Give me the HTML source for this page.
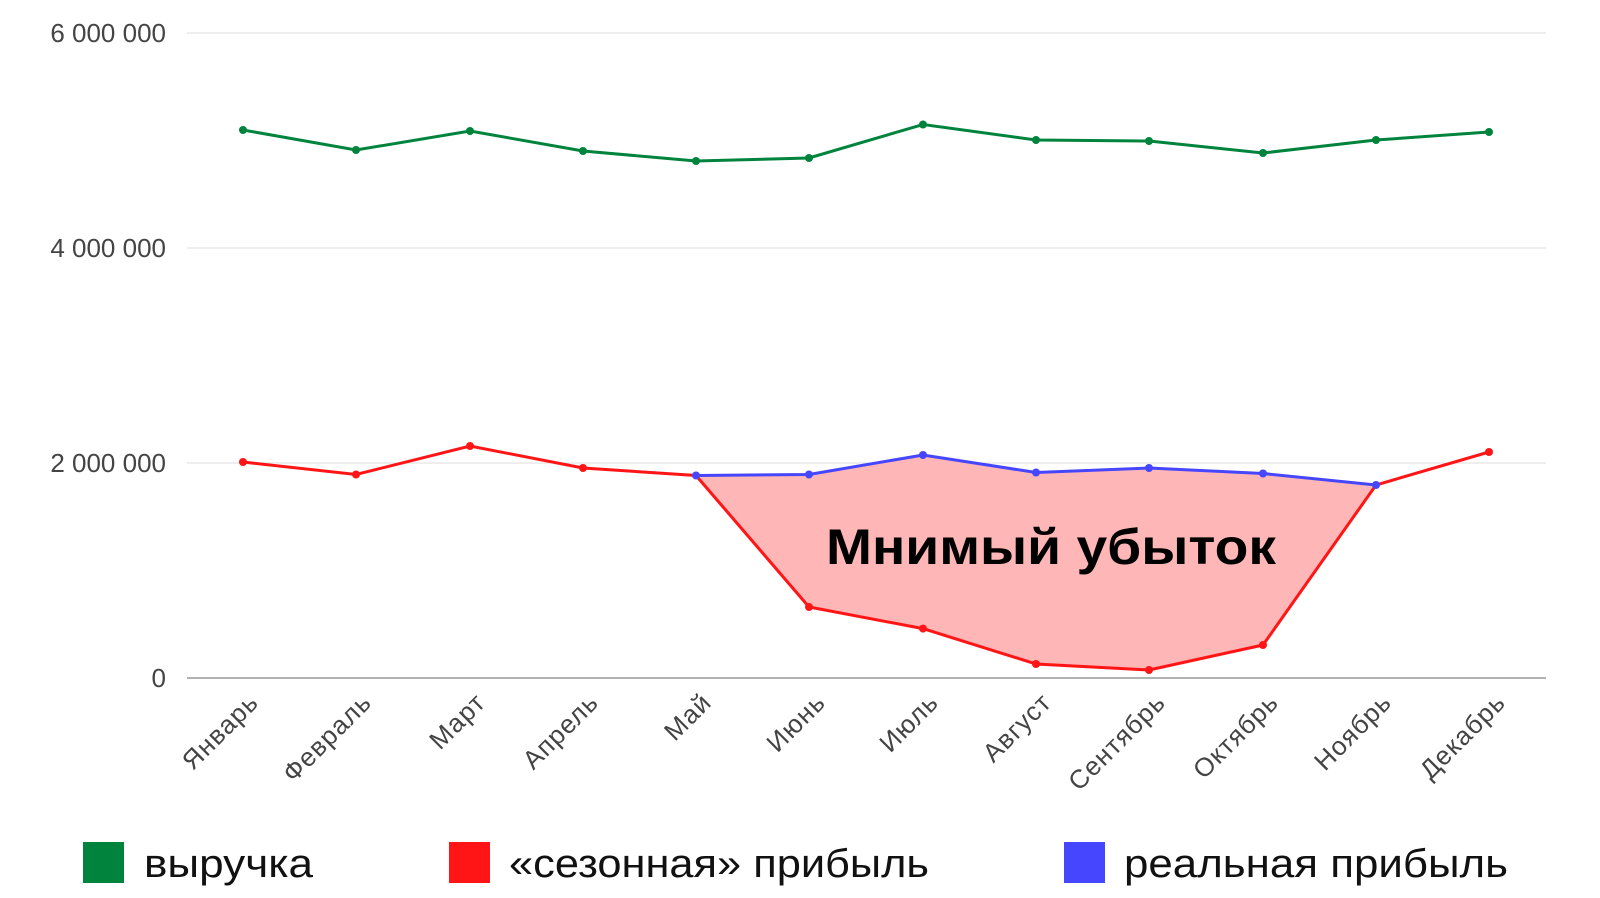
<!DOCTYPE html>
<html><head><meta charset="utf-8"><style>
body{margin:0;background:#fff;}
svg{display:block;font-family:"Liberation Sans","DejaVu Sans",sans-serif;}
</style></head><body>
<svg width="1600" height="898" viewBox="0 0 1600 898">
<g stroke="#ddd" stroke-width="1">
<line x1="187" y1="33" x2="1546" y2="33"/>
<line x1="187" y1="248" x2="1546" y2="248"/>
<line x1="187" y1="463" x2="1546" y2="463"/>
</g>
<line x1="187" y1="678" x2="1546" y2="678" stroke="#999" stroke-width="1.5"/>
<g font-size="26" fill="#444" text-anchor="end">
<text x="166" y="42">6 000 000</text>
<text x="166" y="257">4 000 000</text>
<text x="166" y="472">2 000 000</text>
<text x="166" y="687">0</text>
</g>
<g font-size="26" fill="#444" text-anchor="end" letter-spacing="1">
<text transform="translate(260,704) rotate(-45)">Январь</text>
<text transform="translate(373,704) rotate(-45)">Февраль</text>
<text transform="translate(487,704) rotate(-45)">Март</text>
<text transform="translate(600,704) rotate(-45)">Апрель</text>
<text transform="translate(713,704) rotate(-45)">Май</text>
<text transform="translate(827,704) rotate(-45)">Июнь</text>
<text transform="translate(940,704) rotate(-45)">Июль</text>
<text transform="translate(1053,704) rotate(-45)">Август</text>
<text transform="translate(1167,704) rotate(-45)">Сентябрь</text>
<text transform="translate(1280,704) rotate(-45)">Октябрь</text>
<text transform="translate(1393,704) rotate(-45)">Ноябрь</text>
<text transform="translate(1507,704) rotate(-45)">Декабрь</text>
</g>
<polygon fill="#ffb6b6" points="696,475.5 809,474.5 923,455 1036,472.5 1149,468 1263,473.5 1376,485 1263,645 1149,670 1036,664 923,628.6 809,607 696,475.5"/>
<polyline fill="none" stroke="#00843d" stroke-width="3" points="243,130 356,150 470,131 583,151 696,161 809,158 923,124.5 1036,140 1149,141 1263,153 1376,140 1489,132"/>
<g fill="#00843d">
<circle cx="243" cy="130" r="4"/><circle cx="356" cy="150" r="4"/><circle cx="470" cy="131" r="4"/><circle cx="583" cy="151" r="4"/><circle cx="696" cy="161" r="4"/><circle cx="809" cy="158" r="4"/><circle cx="923" cy="124.5" r="4"/><circle cx="1036" cy="140" r="4"/><circle cx="1149" cy="141" r="4"/><circle cx="1263" cy="153" r="4"/><circle cx="1376" cy="140" r="4"/><circle cx="1489" cy="132" r="4"/>
</g>
<polyline fill="none" stroke="#ff1515" stroke-width="3" points="243,462 356,474.5 470,446 583,468 696,475.5 809,607 923,628.6 1036,664 1149,670 1263,645 1376,485 1489,452"/>
<g fill="#ff1515">
<circle cx="243" cy="462" r="4"/><circle cx="356" cy="474.5" r="4"/><circle cx="470" cy="446" r="4"/><circle cx="583" cy="468" r="4"/><circle cx="809" cy="607" r="4"/><circle cx="923" cy="628.6" r="4"/><circle cx="1036" cy="664" r="4"/><circle cx="1149" cy="670" r="4"/><circle cx="1263" cy="645" r="4"/><circle cx="1489" cy="452" r="4"/>
</g>
<polyline fill="none" stroke="#4646ff" stroke-width="3" points="696,475.5 809,474.5 923,455 1036,472.5 1149,468 1263,473.5 1376,485"/>
<g fill="#4646ff">
<circle cx="696" cy="475.5" r="4"/><circle cx="809" cy="474.5" r="4"/><circle cx="923" cy="455" r="4"/><circle cx="1036" cy="472.5" r="4"/><circle cx="1149" cy="468" r="4"/><circle cx="1263" cy="473.5" r="4"/><circle cx="1376" cy="485" r="4"/>
</g>
<text x="826" y="564" font-size="50" font-weight="bold" fill="#000" textLength="450" lengthAdjust="spacingAndGlyphs">Мнимый убыток</text>
<rect x="83" y="842" width="41" height="41" fill="#00843d"/>
<rect x="449" y="842" width="41" height="41" fill="#ff1515"/>
<rect x="1064" y="842" width="41" height="41" fill="#4646ff"/>
<g font-size="40" fill="#111">
<text x="144" y="877" textLength="169" lengthAdjust="spacingAndGlyphs">выручка</text>
<text x="509" y="877" textLength="420" lengthAdjust="spacingAndGlyphs">«сезонная» прибыль</text>
<text x="1124" y="877" textLength="384" lengthAdjust="spacingAndGlyphs">реальная прибыль</text>
</g>
</svg>
</body></html>
